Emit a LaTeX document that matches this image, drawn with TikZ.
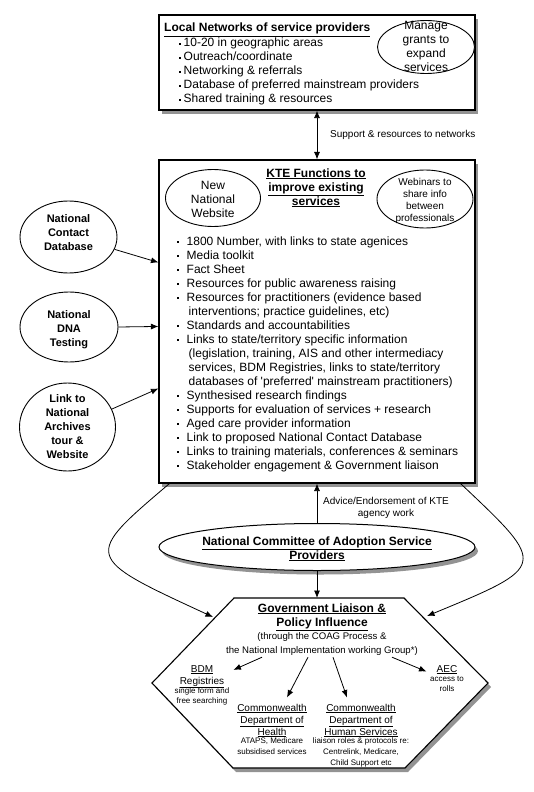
\documentclass[tikz,border=0pt]{standalone}
\usepackage{fontspec}
\setmainfont{Liberation Sans}
\usetikzlibrary{arrows.meta,shapes.geometric,shadows,calc}
\newcommand\bx{\raisebox{2.4pt}{\rule{2pt}{2pt}}}
\newcommand\fA{\fontsize{12}{14}\selectfont}
\newcommand\fL{\fontsize{11}{14}\selectfont}
\newcommand\fB{\fontsize{10}{12}\selectfont}
\newcommand\fG{\fontsize{9.6}{14}\selectfont}
\newcommand\fC{\fontsize{8}{10}\selectfont}
\newcommand\fD{\fontsize{8}{11}\selectfont}
\tikzset{
  shad/.style={drop shadow={shadow xshift=3pt, shadow yshift=-4pt, opacity=0.6, fill=black!70}},
  box/.style={draw, line width=1.1pt, fill=white, rectangle, inner sep=0, shad},
  ell/.style={draw, line width=0.9pt, ellipse, fill=white, inner sep=0},
  txt/.style={inner sep=0, align=center},
  arr/.style={-{Latex[length=7.5pt,width=6pt]}, line width=0.8pt},
  arrr/.style={{Latex[length=7.5pt,width=6pt]}-{Latex[length=7.5pt,width=6pt]}, line width=0.8pt},
}
\begin{document}
\begin{tikzpicture}[x=1pt,y=-1pt]
\useasboundingbox (0,0) rectangle (533,792);
\fill[white] (0,0) rectangle (533,792);

% ---------- top box ----------
\node[box, minimum width=316, minimum height=95] (net) at (317,62.5) {};
\node[txt, anchor=base west, font=\bfseries\fA] (netT) at (164,32) {\underline{Local Networks of service providers}};
\node[anchor=base west, inner sep=0, font=\fA] (netL) at (179,47) {\begin{tabular}[t]{@{}l@{\hspace{2.5pt}}l@{}}
\bx & 10-20 in geographic areas\\
\bx & Outreach/coordinate\\
\bx & Networking \& referrals\\
\bx & Database of preferred mainstream providers\\
\bx & Shared training \& resources
\end{tabular}};
\node[ell, minimum width=97, minimum height=53] (mg) at (426,47) {};
\node[txt, anchor=base, font=\fA] (mgT) at (426,71) {Manage\\grants to\\expand\\services};

% ---------- KTE box ----------
\node[box, minimum width=316, minimum height=323] (kte) at (317,321.5) {};
\draw[arrr] (net.south) -- (kte.north);
\node[txt, anchor=west, font=\fB] (supT) at (330,135) {Support \& resources to networks};

\node[txt, anchor=base, font=\bfseries\fA] (kteT) at (316,205) {\underline{KTE Functions to}\\\underline{improve existing}\\\underline{services}};
\node[ell, minimum width=95, minimum height=57] (nw) at (213,198) {};
\node[txt, anchor=base, font=\fA] (nwT) at (213,217) {New\\National\\Website};
\node[ell, minimum width=96, minimum height=58] (wb) at (425,199) {};
\node[txt, anchor=base, font=\fB] (wbT) at (425,221) {Webinars to\\share info\\between\\professionals};

\node[anchor=base west, inner sep=0, font=\fA] (kteL) at (176.5,245) {\begin{tabular}[t]{@{}l@{\hspace{8pt}}l@{}}
\bx & 1800 Number, with links to state agenices\\
\bx & Media toolkit\\
\bx & Fact Sheet\\
\bx & Resources for public awareness raising\\
\bx & Resources for practitioners (evidence based\\
    & \hspace{2pt}interventions; practice guidelines, etc)\\
\bx & Standards and accountabilities\\
\bx & Links to state/territory specific information\\
    & \hspace{2pt}(legislation, training, AIS and other intermediacy\\
    & \hspace{2pt}services, BDM Registries, links to state/territory\\
    & \hspace{2pt}databases of \textquotesingle preferred\textquotesingle\ mainstream practitioners)\\
\bx & Synthesised research findings\\
\bx & Supports for evaluation of services + research\\
\bx & Aged care provider information\\
\bx & Link to proposed National Contact Database\\
\bx & Links to training materials, conferences \& seminars\\
\bx & Stakeholder engagement \& Government liaison
\end{tabular}};

% ---------- left ellipses ----------
\node[ell, minimum width=97, minimum height=72] (c1) at (68.5,237) {};
\node[txt, anchor=base, font=\bfseries\fL] (c1T) at (68.5,250) {National\\Contact\\Database};
\node[ell, minimum width=98, minimum height=70] (c2) at (69,327) {};
\node[txt, anchor=base, font=\bfseries\fL] (c2T) at (69,346) {National\\DNA\\Testing};
\node[ell, minimum width=96, minimum height=88] (c3) at (67.5,427) {};
\node[txt, anchor=base, font=\bfseries\fL] (c3T) at (67.5,458.5) {Link to\\National\\Archives\\tour \&\\Website};
\draw[arr] (c1.-15) -- ($(kte.north west)+(0,103)$);
\draw[arr] (c2.east) -- ($(kte.north west)+(0,167)$);
\draw[arr] (c3.22) -- ($(kte.north west)+(0,229)$);

% ---------- committee ----------
\node[ell, line width=1pt, shad, minimum width=316, minimum height=47] (com) at (317,547) {};
\node[txt, anchor=base, font=\bfseries\fA] (comT) at (317,559) {\underline{National Committee of Adoption Service}\\\underline{Providers}};
\draw[arr] (com.north) -- (kte.south);
\node[txt, anchor=base, font=\fB] (advT) at (386,516) {Advice/Endorsement of KTE\\agency work};

% ---------- hexagon ----------
\draw[line width=1.1pt, fill=white, shad] (234,598) -- (404,598) -- (488,683) -- (405,768) -- (233,768) -- (152,683) -- cycle;
\coordinate (hexN) at (317,598);
\coordinate (hexL) at (213,617);
\coordinate (hexR) at (427,616);
\draw[arr] (com.south) -- (hexN);
\draw[arr] ($(kte.south west)+(11,0)$) .. controls (83,557) and (83,557) .. (hexL);
\draw[arr] ($(kte.south east)+(-15,0)$) .. controls (548,566) and (548,566) .. (hexR);

\node[txt, anchor=base, font=\bfseries\fA] (gT) at (322,626) {\underline{Government Liaison \&}\\\underline{Policy Influence}};
\node[txt, anchor=base, font=\fG] (g3) at (322,639) {(through the COAG Process \&};
\node[txt, anchor=base, font=\fG] (g4) at (322,653) {the National Implementation working Group*)};

\node[txt, anchor=base, font=\fB] (bdm) at (202,684) {\underline{BDM}\\\underline{Registries}};
\node[txt, anchor=base, font=\fC] (bdmS) at (202,703) {single form and\\free searching};
\node[txt, anchor=base, font=\fB] (aec) at (447,672) {\underline{AEC}};
\node[txt, anchor=base, font=\fC] (aecS) at (447,691) {access to\\rolls};
\node[txt, anchor=base, font=\fB] (hlth) at (272,735) {\underline{Commonwealth}\\\underline{Department of}\\\underline{Health}};
\node[txt, anchor=base, font=\fD] (hlthS) at (272,754) {ATAPS, Medicare\\subsidised services};
\node[txt, anchor=base, font=\fB] (hum) at (361,735) {\underline{Commonwealth}\\\underline{Department of}\\\underline{Human Services}};
\node[txt, anchor=base, font=\fD] (humS) at (361,765) {liaison roles \& protocols re:\\Centrelink, Medicare,\\Child Support etc};

\draw[arr] ($(g4.south)+(-60,2)$) -- ($(bdm.north east)+(9,5)$);
\draw[arr] ($(g4.south)+(-14,2)$) -- ($(hlth.north)+(15,-6)$);
\draw[arr] ($(g4.south)+(11,2)$) -- ($(hum.north)+(-14,-6)$);
\draw[arr] ($(g4.south)+(70,2)$) -- ($(aec.west)+(-10,2)$);
\end{tikzpicture}
\end{document}
